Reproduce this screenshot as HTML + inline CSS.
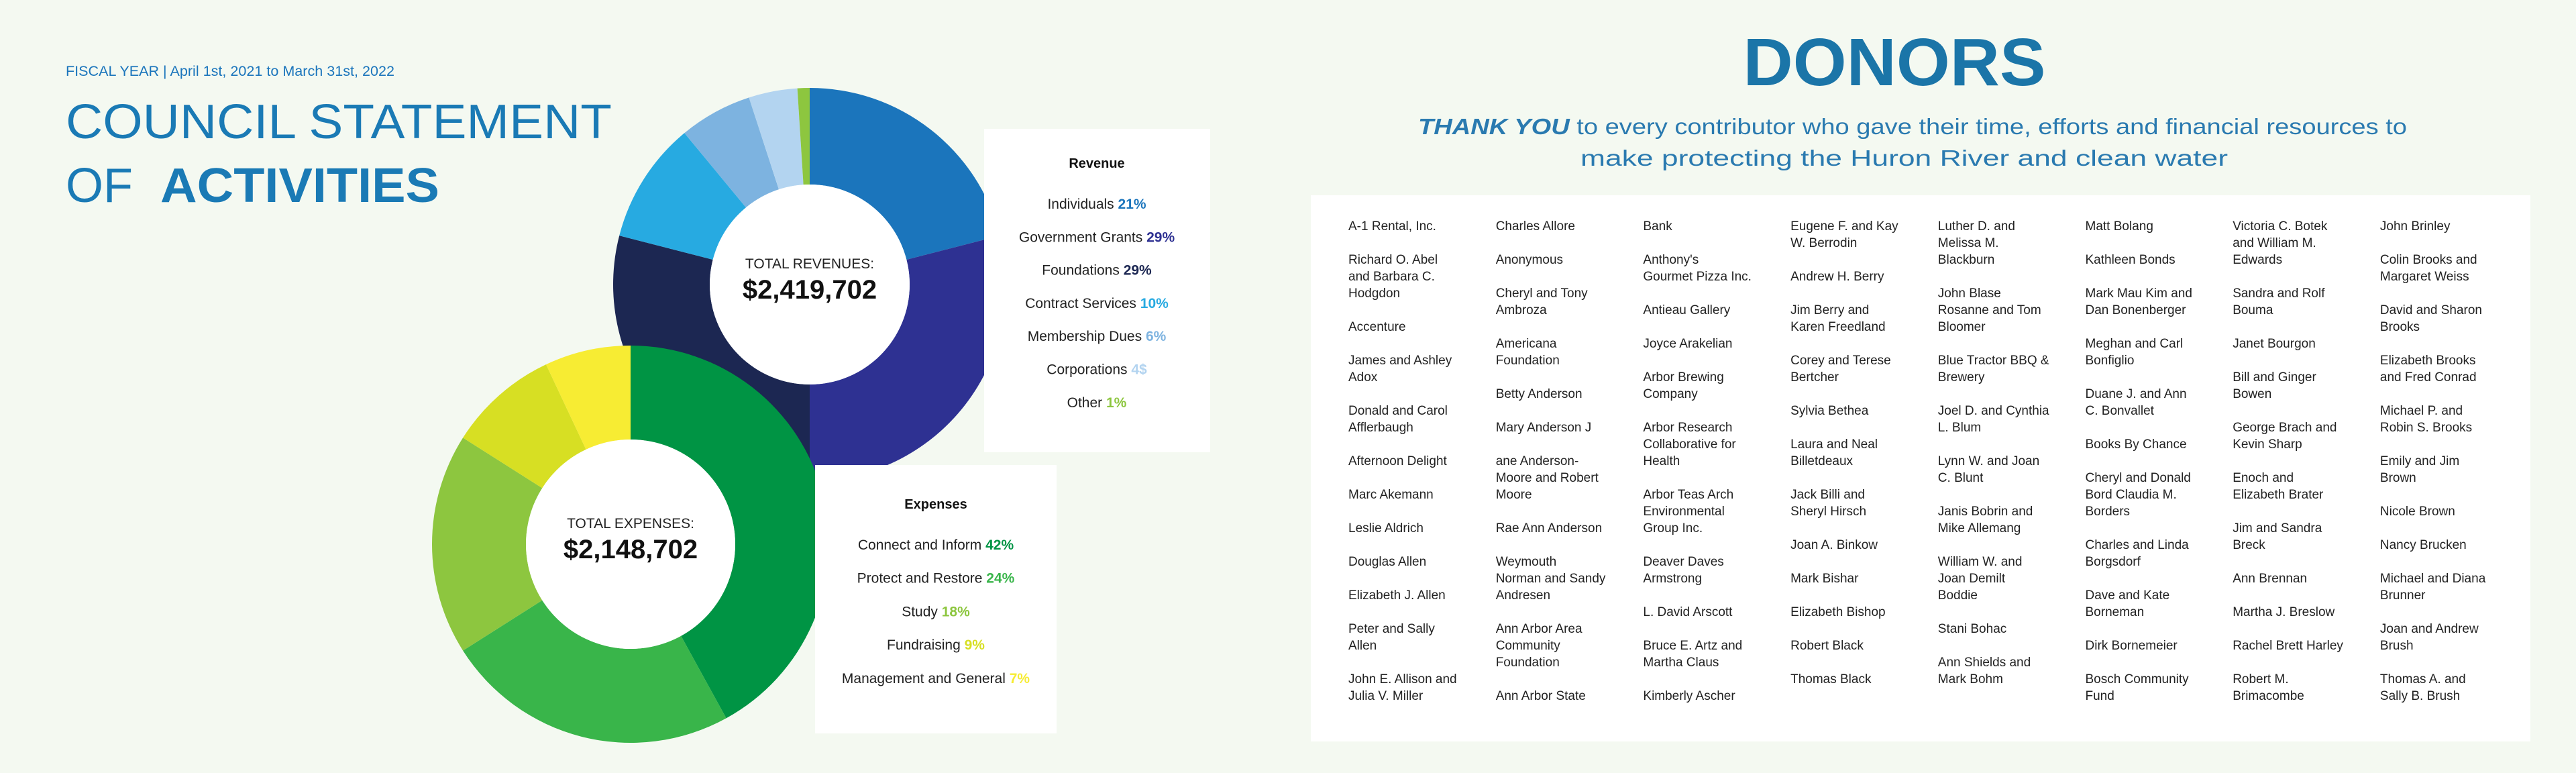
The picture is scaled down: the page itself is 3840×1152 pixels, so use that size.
<!DOCTYPE html>
<html><head><meta charset="utf-8"><style>
html,body{margin:0;padding:0;background:#f4f9f1;}
svg{display:block;font-family:"Liberation Sans",sans-serif;}
</style></head><body>
<svg id="page" width="3840" height="1152" viewBox="0 0 3840 1152">
<rect width="3840" height="1152" fill="#f4f9f1"/>
<text x="98" y="113" font-size="21" fill="#1b75bc" textLength="490" lengthAdjust="spacingAndGlyphs">FISCAL YEAR | April 1st, 2021 to March 31st, 2022</text>
<text x="98" y="206" font-size="72" fill="#1a7ab5" textLength="814" lengthAdjust="spacingAndGlyphs">COUNCIL STATEMENT</text>
<text x="98" y="301" font-size="72" fill="#1a7ab5" textLength="100" lengthAdjust="spacingAndGlyphs">OF</text>
<text x="239" y="301" font-size="72" font-weight="bold" fill="#1a7ab5" textLength="416" lengthAdjust="spacingAndGlyphs">ACTIVITIES</text>
<g id="revChart"></g>
<g id="expChart"></g>
<rect x="1467" y="192" width="337" height="482" fill="#fff"/>
<g id="revLegend"></g>
<rect x="1215" y="693" width="360" height="400" fill="#fff"/>
<g id="expLegend"></g>
<text x="2824" y="127" font-size="100" font-weight="bold" fill="#1b75a8" text-anchor="middle" textLength="451" lengthAdjust="spacingAndGlyphs">DONORS</text>
<text x="2114" y="200" font-size="33" fill="#2a7ab0" textLength="1474" lengthAdjust="spacingAndGlyphs"><tspan font-weight="bold" font-style="italic">THANK YOU</tspan> to every contributor who gave their time, efforts and financial resources to</text>
<text x="2356" y="247" font-size="33" fill="#2a7ab0" textLength="965" lengthAdjust="spacingAndGlyphs">make protecting the Huron River and clean water</text>
<rect x="1954" y="291" width="1818" height="814" fill="#fff"/>
<g id="donors"></g>
</svg>
<script>
const revLabels=["Individuals","Government Grants","Foundations","Contract Services","Membership Dues","Corporations","Other"];
const revValues=[21,29,29,10,6,4,1];
const revSuffix=["%","%","%","%","%","$","%"];
const revColors=["#1b75bc","#2e3192","#1c2752","#27aae1","#7db3e0","#b3d4f0","#8dc63f"];
const expLabels=["Connect and Inform","Protect and Restore","Study","Fundraising","Management and General"];
const expValues=[42,24,18,9,7];
const expColors=["#009444","#39b54a","#8dc63f","#d7df23","#f7ec33"];
const revTotal="$2,419,702";
const expTotal="$2,148,702";
const donorCols=[
[["A-1 Rental, Inc."],["Richard O. Abel","and Barbara C.","Hodgdon"],["Accenture"],["James and Ashley","Adox"],["Donald and Carol","Afflerbaugh"],[" Afternoon Delight"],["Marc Akemann"],["Leslie Aldrich"],["Douglas Allen"],["Elizabeth J. Allen"],["Peter and Sally","Allen"],["John E. Allison and","Julia V. Miller"]],
[["Charles Allore"],["Anonymous"],["Cheryl and Tony","Ambroza"],["Americana","Foundation"],["Betty Anderson"],["Mary Anderson J"],["ane Anderson-","Moore and Robert","Moore"],["Rae Ann Anderson"],["Weymouth","Norman and Sandy","Andresen"],["Ann Arbor Area","Community","Foundation"],["Ann Arbor State"]],
[["Bank"],["Anthony's","Gourmet Pizza Inc."],["Antieau Gallery"],["Joyce Arakelian"],["Arbor Brewing","Company"],["Arbor Research","Collaborative for","Health"],["Arbor Teas Arch","Environmental","Group Inc."],["Deaver Daves","Armstrong"],["L. David Arscott"],["Bruce E. Artz and","Martha Claus"],["Kimberly Ascher"]],
[["Eugene F. and Kay","W. Berrodin"],["Andrew H. Berry"],["Jim Berry and","Karen Freedland"],["Corey and Terese","Bertcher"],["Sylvia Bethea"],["Laura and Neal","Billetdeaux"],["Jack Billi and","Sheryl Hirsch"],["Joan A. Binkow"],["Mark Bishar"],["Elizabeth Bishop"],["Robert Black"],["Thomas Black"]],
[["Luther D. and","Melissa M.","Blackburn"],["John Blase","Rosanne and Tom","Bloomer"],["Blue Tractor BBQ &","Brewery"],["Joel D. and Cynthia","L. Blum"],["Lynn W. and Joan","C. Blunt"],["Janis Bobrin and","Mike  Allemang"],["William W. and","Joan Demilt","Boddie"],["Stani Bohac"],["Ann Shields and","Mark Bohm"]],
[["Matt Bolang"],["Kathleen Bonds"],["Mark Mau Kim and","Dan Bonenberger"],["Meghan and Carl","Bonfiglio"],["Duane J. and Ann","C. Bonvallet"],["Books By Chance"],["Cheryl and Donald","Bord Claudia M.","Borders"],["Charles and Linda","Borgsdorf"],["Dave and Kate","Borneman"],["Dirk Bornemeier"],["Bosch Community","Fund"]],
[["Victoria C. Botek","and William M.","Edwards"],["Sandra and Rolf","Bouma"],["Janet Bourgon"],["Bill and Ginger","Bowen"],[" George Brach and","Kevin Sharp"],["Enoch and","Elizabeth Brater"],["Jim and Sandra","Breck"],["Ann Brennan"],["Martha J. Breslow"],["Rachel Brett Harley"],["Robert M.","Brimacombe"]],
[["John Brinley"],["Colin Brooks and","Margaret Weiss"],["David and Sharon","Brooks"],["Elizabeth Brooks","and Fred Conrad"],["Michael P. and","Robin S. Brooks"],["Emily and Jim","Brown"],["Nicole Brown"],["Nancy Brucken"],["Michael and Diana","Brunner"],["Joan and Andrew","Brush"],["Thomas A. and","Sally B. Brush"]]
];
const NS="http://www.w3.org/2000/svg";
function mk(tag,attrs,parent){const e=document.createElementNS(NS,tag);for(const k in attrs)e.setAttribute(k,attrs[k]);parent.appendChild(e);return e;}
function angle(frac){return frac*2*Math.PI-Math.PI/2;}
function donut(g,values,colors,cx,cy,ro,ri,names,title,total){
  const sum=values.reduce((a,b)=>a+b,0);let acc=0;
  values.forEach((v,i)=>{
    const a0=angle(acc/sum),a1=angle((acc+v)/sum);acc+=v;
    const large=(a1-a0)>Math.PI?1:0;
    const d=`M${cx+ro*Math.cos(a0)},${cy+ro*Math.sin(a0)} A${ro},${ro} 0 ${large} 1 ${cx+ro*Math.cos(a1)},${cy+ro*Math.sin(a1)} L${cx+ri*Math.cos(a1)},${cy+ri*Math.sin(a1)} A${ri},${ri} 0 ${large} 0 ${cx+ri*Math.cos(a0)},${cy+ri*Math.sin(a0)} Z`;
    const p=mk('path',{d:d,fill:colors[i]},g);
    
    
  });
  const c=mk('circle',{cx:cx,cy:cy,r:ri,fill:'#fff'},g);
  
  
  const t1=mk('text',{x:cx,y:cy-24,'font-size':21,'text-anchor':'middle',fill:'#222'},g);t1.textContent=title;
  
  
  const t2=mk('text',{x:cx,y:cy+21,'font-size':40,'font-weight':'bold','text-anchor':'middle',fill:'#111'},g);t2.textContent=total;
  
  
}
donut(document.getElementById('revChart'),revValues,revColors,1207,424,293,149,revLabels.map(s=>'revenue-slice-'+s.toLowerCase().replace(/ /g,'-')),'TOTAL REVENUES:',revTotal);
donut(document.getElementById('expChart'),expValues,expColors,940,811,296,156,expLabels.map(s=>'expense-slice-'+s.toLowerCase().replace(/ /g,'-')),'TOTAL EXPENSES:',expTotal);
function legend(g,title,labels,values,suffix,colors,cx,ty,y0,step){
  const h=mk('text',{x:cx,y:ty,'font-size':20,'font-weight':'bold','text-anchor':'middle',fill:'#111'},g);h.textContent=title;
  
  
  labels.forEach((l,i)=>{
    const t=mk('text',{x:cx,y:y0+i*step,'font-size':21,'text-anchor':'middle',fill:'#222'},g);
    
    
    const a=mk('tspan',{},t);a.textContent=l+' ';
    const b=mk('tspan',{fill:colors[i],'font-weight':'bold'},t);b.textContent=values[i]+suffix[i];
  });
}
legend(document.getElementById('revLegend'),'Revenue',revLabels,revValues,revSuffix,revColors,1635,250,311,49.3);
legend(document.getElementById('expLegend'),'Expenses',expLabels,expValues,expLabels.map(()=>'%'),expColors,1395,758,819,49.7);
const dg=document.getElementById('donors');
donorCols.forEach((col,ci)=>{
  let line=0;
  col.forEach(entry=>{
    const t=mk('text',{'font-size':19,fill:'#222'},dg);
    
    
    entry.forEach((ln,li)=>{
      const s=mk('tspan',{x:2010+ci*219.7,y:343+(line+li)*25,'xml:space':'preserve'},t);s.textContent=ln;
    });
    line+=entry.length+1;
  });
});
</script>
</body></html>
